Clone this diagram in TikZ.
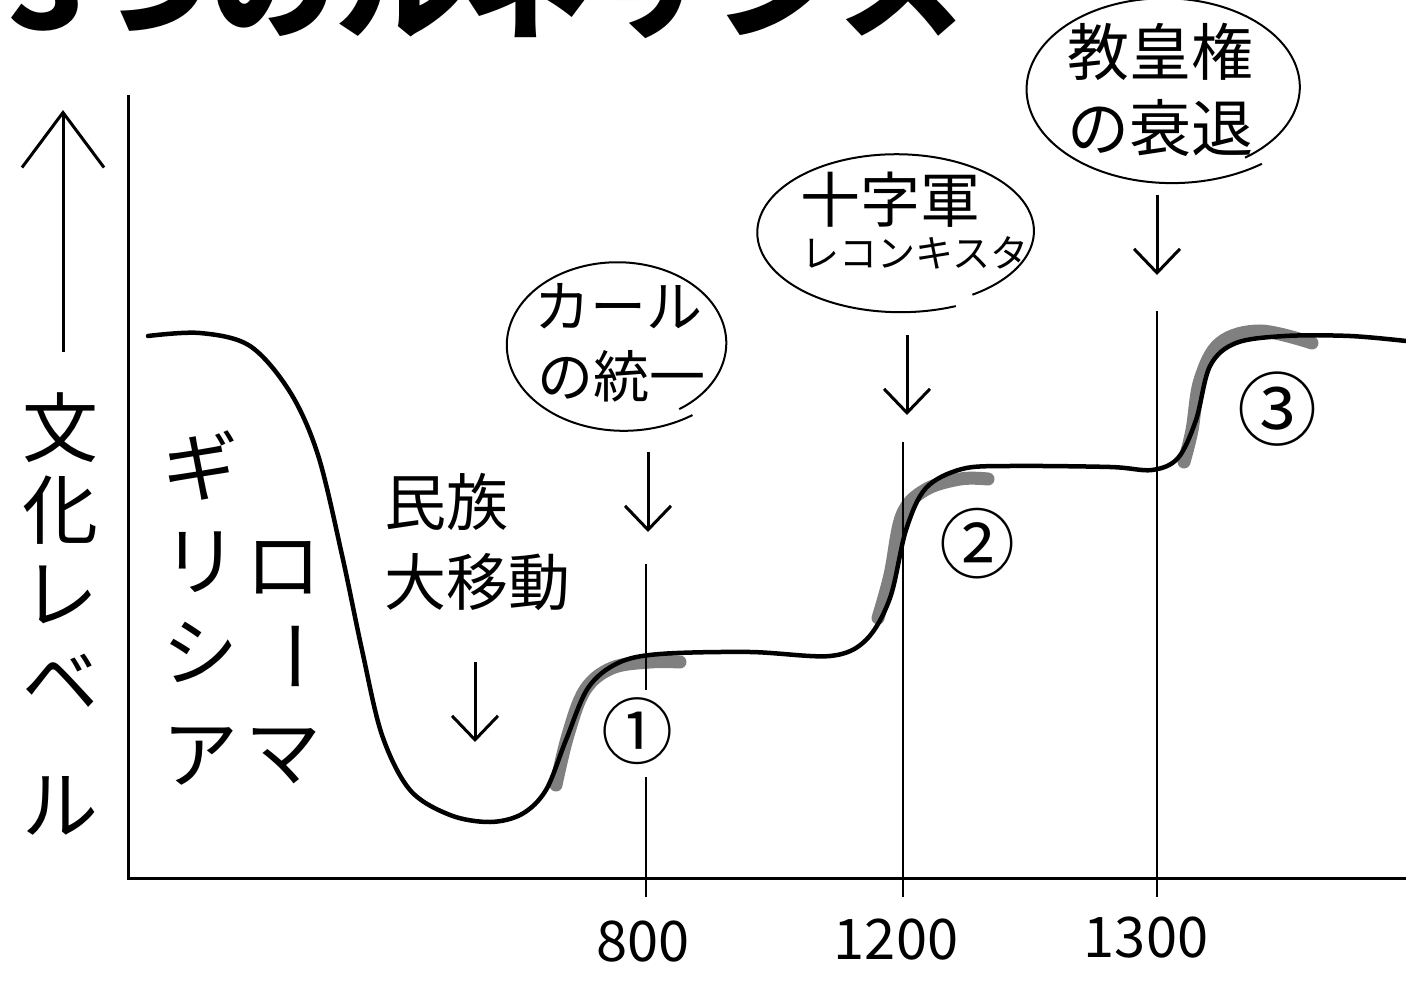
\documentclass[tikz,border=0pt]{standalone}
\usepackage{fontspec}
\newfontfamily\jp{Noto Sans CJK JP}
\usetikzlibrary{arrows.meta}
\newcommand\fsz[1]{\fontsize{#1}{#1}\selectfont}
\begin{document}
\begin{tikzpicture}[x=1pt,y=-1pt,
  lbl/.style={inner sep=0pt,font=\jp\fsz{#1}},
  curve/.style={line width=4.5pt,line cap=round},
  hl/.style={line width=13pt,line cap=round,draw=hlgray},
  axis/.style={line width=3pt},
  vline/.style={line width=2.4pt},
  ptr/.style={line width=3pt,-{Straight Barb[length=24pt,width=46pt,line width=3pt]}},
  bubble/.style={line width=2pt}]
\definecolor{hlgray}{RGB}{128,128,128}
\useasboundingbox (0,0) rectangle (1406,981);
\fill[white] (0,0) rectangle (1406,981);
% title (cut off at top, as in the reference)
\node[lbl=128,font=\jp\bfseries\fsz{126},anchor=base west] (title) at (8,30) {3つのルネサンス};
% axes
\coordinate (o) at (128,878);
\coordinate (ytop) at (128,95);
\coordinate (xend) at (1406,878);
\draw[axis] (ytop) -- (o) -- (xend);
% y label arrow
\coordinate (ya0) at (63,352);
\coordinate (ya1) at (63,110);
\draw[line width=3pt,-{Straight Barb[length=55pt,width=82pt,line width=3pt]}] (ya0) -- (ya1);
\foreach \c/\yy [count=\i] in {文/428,化/510,レ/595,ベ/682,ル/806}
  \node[lbl=76] (yl\i) at (60,\yy) {\c};
% ギリシア / ローマ
\foreach \c/\yy [count=\i] in {ギ/466,リ/562,シ/652,ア/756}
  \node[lbl=76] (gr\i) at (200,\yy) {\c};
\node[lbl=76] (ro1) at (283,568) {ロ};
\node[lbl=76,rotate=-90] (ro2) at (283,656) {ー};
\node[lbl=76] (ro3) at (283,756) {マ};
% highlight strokes
\draw[hl] plot[smooth,tension=0.6] coordinates {(556,785) (568,735) (585,690) (612,668) (650,662) (680,662)};
\draw[hl] plot[smooth,tension=0.6] coordinates {(878,618) (890,575) (902,515) (925,490) (960,479) (988,479)};
\draw[hl] plot[smooth,tension=0.6] coordinates {(1184,462) (1192,430) (1200,380) (1220,343) (1260,331) (1312,343)};
% main curve
\draw[curve] plot[smooth,tension=0.55] coordinates {
 (148,336) (200,333) (250,346) (290,392) (318,455) (342,555) (362,650) (382,735)
 (410,790) (450,815) (490,822) (522,814) (546,790) (566,740) (588,688) (618,663)
 (660,654) (750,652) (830,656) (866,640) (890,598) (906,530) (926,488) (962,469)
 (1010,466) (1110,467) (1152,470) (1178,458) (1196,420) (1210,366) (1236,343)
 (1285,336) (1350,336) (1406,341)};
% vertical guide lines
\coordinate (v1a) at (646,564); \coordinate (v1b) at (646,690);
\coordinate (v1c) at (646,777); \coordinate (v1d) at (646,897);
\draw[vline] (v1a) -- (v1b); \draw[vline] (v1c) -- (v1d);
\coordinate (v2a) at (903,442); \coordinate (v2b) at (903,897);
\draw[vline] (v2a) -- (v2b);
\coordinate (v3a) at (1157,311); \coordinate (v3b) at (1157,897);
\draw[vline] (v3a) -- (v3b);
% circled numbers
\node[lbl=72] (n1) at (637,731) {①};
\node[lbl=76] (n2) at (977,544) {②};
\node[lbl=80] (n3) at (1277,409) {③};
% x labels
\node[lbl=56] (x1) at (643,942) {800};
\node[lbl=56] (x2) at (896,940) {1200};
\node[lbl=56] (x3) at (1146,938) {1300};
% 民族大移動
\node[lbl=62,anchor=west] (m1) at (384,502) {民族};
\node[lbl=62,anchor=west] (m2) at (384,582) {大移動};
\coordinate (a0s) at (475,662); \coordinate (a0e) at (475,742);
\draw[ptr] (a0s) -- (a0e);
% カールの統一
\draw[bubble] plot[smooth,samples=90,domain=52:415,variable=\t]
 ({618+110*(1+0.10*(1-(\t-52)/363)^5-0.03*((\t-52)/363)^4)*cos(\t)},
  {344+82*(1+0.10*(1-(\t-52)/363)^5-0.03*((\t-52)/363)^4)*sin(\t)});
\node[lbl=56] (k1) at (618,306) {カール};
\node[lbl=56] (k2) at (621,376) {の統一};
\coordinate (a1s) at (648,452); \coordinate (a1e) at (648,532);
\draw[ptr] (a1s) -- (a1e);
% 十字軍
\draw[bubble] plot[smooth,samples=90,domain=66:416,variable=\t]
 ({897+139*(1+0.04*(1-(\t-66)/350)^5-0.03*((\t-66)/350)^4)*cos(\t)},
  {232+78*(1+0.04*(1-(\t-66)/350)^5-0.03*((\t-66)/350)^4)*sin(\t)});
\node[lbl=60] (j1) at (890,200) {十字軍};
\node[lbl=38] (j2) at (915,253) {レコンキスタ};
\coordinate (a2s) at (907,335); \coordinate (a2e) at (907,415);
\draw[ptr] (a2s) -- (a2e);
% 教皇権の衰退
\draw[bubble] plot[smooth,samples=90,domain=50:413,variable=\t]
 ({1165+137*(1+0.10*(1-(\t-50)/363)^5-0.03*((\t-50)/363)^4)*cos(\t)},
  {88+90*(1+0.10*(1-(\t-50)/363)^5-0.03*((\t-50)/363)^4)*sin(\t)});
\node[lbl=62] (p1) at (1160,52) {教皇権};
\node[lbl=62] (p2) at (1160,128) {の衰退};
\coordinate (a3s) at (1157,195); \coordinate (a3e) at (1157,275);
\draw[ptr] (a3s) -- (a3e);
\end{tikzpicture}
\end{document}
